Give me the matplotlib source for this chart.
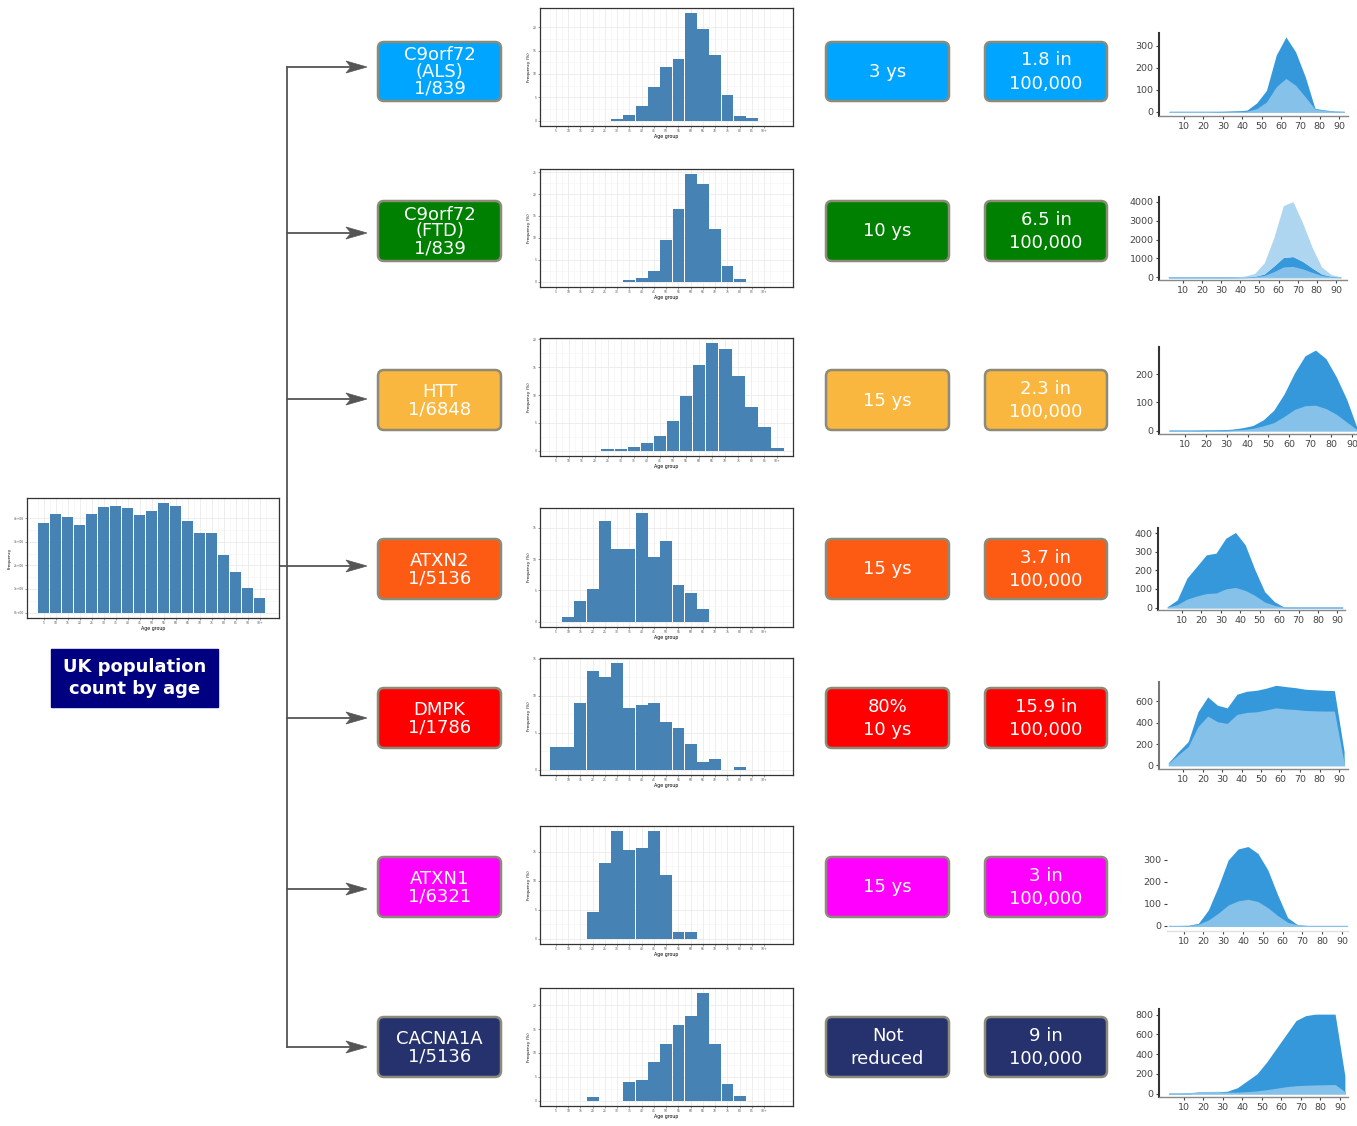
import matplotlib.pyplot as plt
from matplotlib.patches import FancyBboxPatch, Polygon
import numpy as np

W, H = 1357, 1126

# ---- data ----
age_labels = ['5', '10', '15', '20', '25', '30', '35', '40', '45', '50',
              '55', '60', '65', '70', '75', '80', '85', '90+']
uk_labels = ['5', '10', '15', '20', '25', '30', '35', '40', '45', '50',
             '55', '60', '65', '70', '75', '80', '85', '90', '90+']
uk_counts = [3.79e6, 4.17e6, 4.04e6, 3.70e6, 4.17e6, 4.50e6, 4.54e6, 4.42e6,
             4.12e6, 4.33e6, 4.63e6, 4.54e6, 3.87e6, 3.37e6, 3.37e6, 2.44e6,
             1.73e6, 1.05e6, 0.63e6]

als_freq = [0, 0, 0, 0, 0, 0.3, 1.3, 3.2, 7.2, 11.5, 13.2, 23.0, 19.7, 14.0, 5.4, 1.1, 0.5, 0]
ftd_freq = [0, 0, 0, 0, 0, 0, 0.3, 0.8, 2.5, 9.5, 16.5, 24.5, 22.2, 12.0, 3.6, 0.5, 0, 0]
htt_freq = [0, 0, 0, 0, 0.25, 0.25, 0.6, 1.3, 2.7, 5.4, 9.9, 15.4, 19.3, 18.3, 13.5, 7.9, 4.2, 0.4]
atxn2_freq = [0, 0.75, 3.3, 5.2, 16.1, 11.6, 11.6, 17.3, 10.4, 12.9, 5.9, 4.6, 2.0, 0, 0, 0, 0, 0]
dmpk_freq = [3.1, 3.1, 9.0, 13.3, 12.5, 14.4, 8.4, 8.8, 9.0, 6.4, 5.7, 3.5, 1.1, 1.5, 0, 0.4, 0, 0]
atxn1_freq = [0, 0, 0, 4.6, 13.1, 18.5, 15.3, 15.7, 18.5, 10.9, 1.2, 1.2, 0, 0, 0, 0, 0, 0]
cacna1a_freq = [0, 0, 0, 0.8, 0, 0, 3.9, 4.3, 8.0, 11.8, 15.9, 17.7, 22.5, 11.8, 3.5, 1.0, 0, 0]

area_age = [2.5, 7.5, 12.5, 17.5, 22.5, 27.5, 32.5, 37.5, 42.5, 47.5,
            52.5, 57.5, 62.5, 67.5, 72.5, 77.5, 82.5, 87.5, 92.5]
als_lo = [0, 0, 0, 0, 0, 0, 1, 2, 3, 15, 45, 114, 152, 121, 68, 12, 6, 2, 0]
als_hi = [0, 0, 0, 0, 0, 1, 2, 4, 8, 41, 98, 258, 341, 273, 159, 15, 8, 2, 0]
ftd_lo = [0, 0, 0, 0, 0, 0, 0, 3, 10, 30, 100, 300, 550, 580, 450, 270, 100, 30, 5]
ftd_mid = [0, 0, 0, 0, 0, 0, 1, 5, 20, 50, 180, 600, 1050, 1100, 850, 500, 180, 50, 10]
ftd_hi = [0, 0, 0, 0, 0, 0, 5, 20, 70, 210, 770, 2100, 3800, 4000, 2900, 1600, 550, 150, 30]
htt_lo = [0, 0, 0, 0, 1, 1, 2, 4, 8, 17, 28, 50, 75, 88, 90, 78, 58, 30, 3]
htt_hi = [0, 0, 0, 1, 2, 3, 5, 10, 18, 38, 72, 130, 205, 265, 285, 255, 190, 110, 8]
atxn2_lo = [3, 15, 45, 62, 75, 78, 100, 108, 92, 65, 30, 12, 2, 0, 0, 0, 0, 0, 0]
atxn2_hi = [5, 41, 158, 220, 283, 292, 372, 403, 337, 203, 86, 32, 2, 0, 0, 0, 0, 0, 0]
dmpk_lo = [22, 100, 177, 363, 463, 410, 394, 478, 497, 503, 520, 540, 530, 525, 515, 512, 510, 510, 22]
dmpk_hi = [28, 130, 224, 503, 643, 565, 540, 668, 696, 705, 725, 752, 740, 730, 715, 710, 705, 702, 130]
atxn1_lo = [0, 0, 1, 8, 27, 58, 95, 114, 121, 111, 83, 47, 17, 5, 0, 0, 0, 0, 0]
atxn1_hi = [0, 0, 2, 12, 73, 179, 300, 350, 361, 330, 255, 141, 38, 5, 0, 0, 0, 0, 0]
cacna1a_lo = [0, 0, 2, 15, 17, 18, 15, 15, 20, 28, 40, 55, 70, 80, 85, 88, 90, 92, 20]
cacna1a_hi = [0, 0, 2, 15, 17, 18, 25, 60, 130, 200, 320, 460, 600, 740, 790, 805, 805, 805, 180]

gene_text = ['C9orf72\n(ALS)\n1/839', 'C9orf72\n(FTD)\n1/839', 'HTT\n1/6848',
             'ATXN2\n1/5136', 'DMPK\n1/1786', 'ATXN1\n1/6321', 'CACNA1A\n1/5136']
onset_text = ['3 ys', '10 ys', '15 ys', '15 ys', '80%\n10 ys', '15 ys', 'Not\nreduced']
prev_text = ['1.8 in\n100,000', '6.5 in\n100,000', '2.3 in\n100,000', '3.7 in\n100,000',
             '15.9 in\n100,000', '3 in\n100,000', '9 in\n100,000']
row_colors = ['#00a5ff', '#008000', '#f9b73f', '#fd5a14', '#ff0000', '#ff00ff', '#26326e']

# ---- layout (pixels) ----
row_box = [(42, 101), (201, 261), (370, 430), (539, 599), (688, 748), (857, 917), (1017, 1077)]
arrow_y = [67, 233, 399, 566, 718, 889, 1047]
hist_box = [(540, 8, 793, 126), (540, 169, 793, 287), (540, 338, 793, 456),
            (540, 508, 793, 627), (540, 658, 793, 775), (540, 826, 793, 944),
            (540, 988, 793, 1106)]

fig = plt.figure(figsize=(W / 100, H / 100), dpi=100)


def px_axes(x0, y0, x1, y1):
    return fig.add_axes([x0 / W, 1 - y1 / H, (x1 - x0) / W, (y1 - y0) / H])


ov = fig.add_axes([0, 0, 1, 1])
ov.set_xlim(0, W)
ov.set_ylim(H, 0)
ov.axis('off')


def gg_hist(box, labels, vals, yticks, xlim, width=0.97, ylabel='Frequency (%)', yfmt=None):
    ax = px_axes(*box)
    x = np.arange(len(vals))
    ax.bar(x, vals, width=width, color='#4682b4', zorder=3)
    top = max(vals)
    ax.set_xticks(x)
    ax.set_xticklabels(labels)
    ax.set_xticks(np.arange(-1, len(vals) + 2) + 0.5, minor=True)
    ax.set_yticks(yticks)
    if yfmt:
        ax.set_yticklabels(yfmt)
    step = yticks[1] - yticks[0]
    ax.set_yticks(np.array(yticks[:-1]) + step / 2.0, minor=True)
    # limits after the ticks, set_ticks may widen the view
    ax.set_xlim(*xlim)
    ax.set_ylim(-0.05 * top, 1.05 * top)
    ax.grid(True, which='major', color='#ebebeb', lw=0.6, zorder=0)
    ax.grid(True, which='minor', color='#f3f3f3', lw=0.4, zorder=0)
    ax.set_axisbelow(True)
    ax.tick_params(which='major', labelsize=2.2, colors='#4d4d4d', length=1.2, width=0.4, pad=1)
    ax.tick_params(which='minor', length=0)
    for s in ax.spines.values():
        s.set_color('#333333')
        s.set_linewidth(0.9)
    ax.set_xlabel('Age group', fontsize=3.4, labelpad=1)
    ax.set_ylabel(ylabel, fontsize=3.0, labelpad=1.5)
    return ax


hist_data = [als_freq, ftd_freq, htt_freq, atxn2_freq, dmpk_freq, atxn1_freq, cacna1a_freq]
hist_ticks = [[0, 5, 10, 15, 20], [0, 5, 10, 15, 20, 25], [0, 5, 10, 15, 20], [0, 5, 10, 15],
              [0, 5, 10, 15], [0, 5, 10, 15], [0, 5, 10, 15, 20]]
for i, vals in enumerate(hist_data):
    xl = (-1.2, 18.2) if i == 2 else (-1.3, 19.35)
    gg_hist(hist_box[i], age_labels, vals, hist_ticks[i], xl)

# UK population histogram
gg_hist((27, 498, 279, 618), uk_labels, uk_counts, [0, 1e6, 2e6, 3e6, 4e6], (-1.4, 19.6),
        width=0.92, ylabel='Frequency', yfmt=['0e+00', '1e+06', '2e+06', '3e+06', '4e+06'])

ov.add_patch(plt.Rectangle((51, 649), 167, 58, color='#000080'))
ov.text(134.5, 678, 'UK population\ncount by age', ha='center', va='center',
        color='white', fontsize=13, fontweight='bold', linespacing=1.35)

# tree of arrows
line_col = '#555555'
ov.plot([287, 287], [arrow_y[0], arrow_y[-1]], color=line_col, lw=1.3)
ov.plot([279, 287], [566, 566], color=line_col, lw=1.3)
for y in arrow_y:
    ov.plot([287, 352], [y, y], color=line_col, lw=1.3)
    ov.add_patch(Polygon([(367, y), (346, y - 6), (351, y), (346, y + 6)],
                         closed=True, fc=line_col, ec=line_col, lw=0.5))


def rbox(x0, x1, yy, color, text, ls):
    y0, y1 = yy
    ov.add_patch(FancyBboxPatch((x0, y0), x1 - x0, y1 - y0,
                                boxstyle='round,pad=0,rounding_size=6',
                                fc=color, ec='#8c8a78', lw=1.8))
    ov.text((x0 + x1) / 2, (y0 + y1) / 2 + 0.5, text, ha='center', va='center',
            color='white', fontsize=13, linespacing=ls)


for i in range(7):
    rbox(378, 501, row_box[i], row_colors[i], gene_text[i], 0.9 if i < 2 else 0.96)
    rbox(826, 949, row_box[i], row_colors[i], onset_text[i], 1.37)
    rbox(985, 1107, row_box[i], row_colors[i], prev_text[i], 1.37)

# stacked area charts
area_layers = [[als_lo, als_hi], [ftd_lo, ftd_mid, ftd_hi], [htt_lo, htt_hi],
               [atxn2_lo, atxn2_hi], [dmpk_lo, dmpk_hi], [atxn1_lo, atxn1_hi],
               [cacna1a_lo, cacna1a_hi]]
area_box = [(1159, 33, 1348, 116), (1159, 197, 1347, 280), (1159, 347, 1357, 434),
            (1158, 528, 1345, 610), (1159, 682, 1348, 769), (1167, 845, 1348, 931),
            (1159, 1009, 1348, 1097)]
area_xlim = [(-2.9, 94.5), (-2.6, 95.8), (-2.45, 92.4), (-2.4, 93.9), (-2.5, 94.5),
             (1.6, 93), (-2.6, 94.1)]
area_ylim = [(-19, 359), (-140, 4250), (-12, 296), (-13, 427), (-34, 783), (-23, 368), (-34, 857)]
area_yticks = [[0, 100, 200, 300], [0, 1000, 2000, 3000, 4000], [0, 100, 200],
               [0, 100, 200, 300, 400], [0, 200, 400, 600], [0, 100, 200, 300],
               [0, 200, 400, 600, 800]]
layer_colors = ['#85c1e9', '#3498db', '#aed6f1']

for i in range(7):
    ax = px_axes(*area_box[i])
    base = np.zeros(len(area_age))
    for j, lay in enumerate(area_layers[i]):
        top = np.array(lay, dtype=float)
        # only the bottom layer keeps an outline, so zero stretches stay light
        ax.fill_between(area_age, base, top, color=layer_colors[j],
                        lw=0.8 if j == 0 else 0, edgecolor=layer_colors[j], zorder=2 + j)
        base = top
    ax.set_xticks([10, 20, 30, 40, 50, 60, 70, 80, 90])
    ax.set_yticks(area_yticks[i])
    ax.set_xlim(*area_xlim[i])
    ax.set_ylim(*area_ylim[i])
    ax.tick_params(labelsize=6.8, colors='#444444', length=2, width=0.8, pad=2)
    ax.spines['top'].set_visible(False)
    ax.spines['right'].set_visible(False)
    ax.spines['bottom'].set_color('#888888')
    ax.spines['bottom'].set_linewidth(1.0)
    if i == 5:
        ax.spines['left'].set_visible(False)
        ax.spines['bottom'].set_color('#e0e0e0')
    elif i == 4:
        ax.spines['left'].set_color('#777777')
        ax.spines['left'].set_linewidth(1.5)
    else:
        ax.spines['left'].set_color('#333333')
        ax.spines['left'].set_linewidth(1.5)
    ax.patch.set_alpha(0)

fig.savefig('out.png', dpi=100)
